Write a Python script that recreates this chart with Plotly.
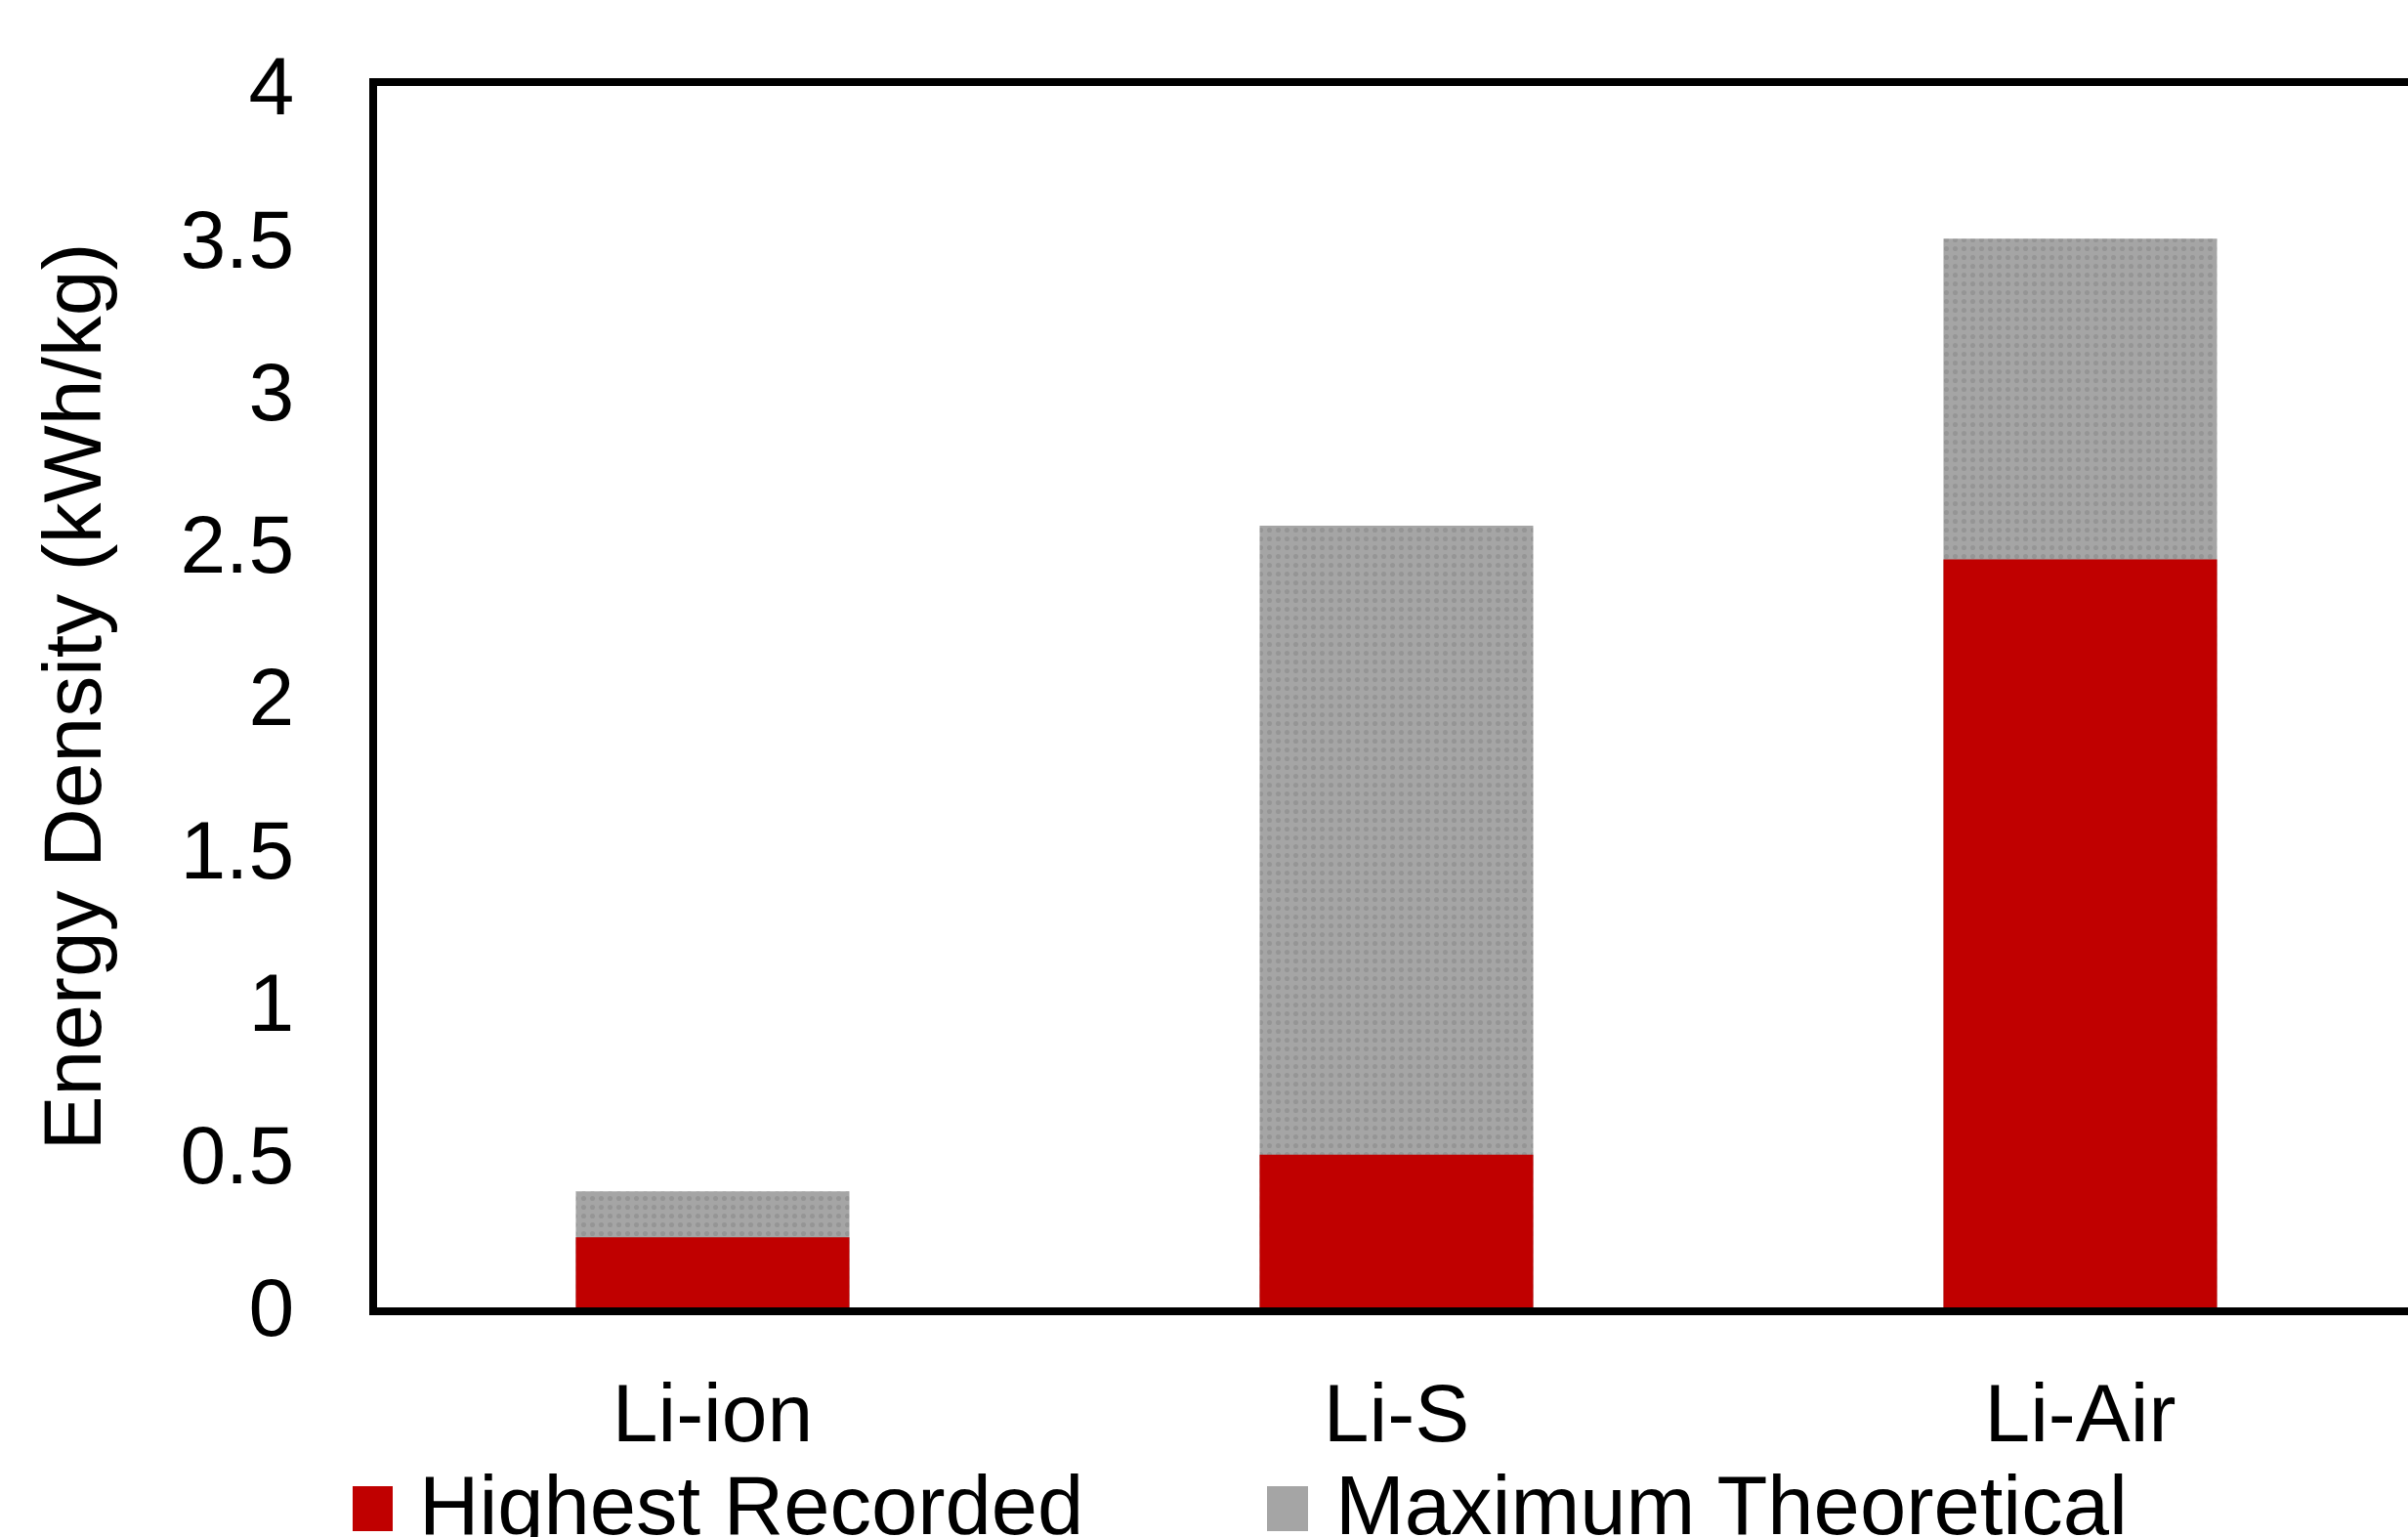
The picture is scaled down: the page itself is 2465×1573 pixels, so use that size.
import plotly.graph_objects as go

# Battery chemistries and their gravimetric energy densities (kWh/kg)
chemistries = ["Li-ion", "Li-S", "Li-Air"]
highest_recorded = [0.23, 0.5, 2.45]
maximum_theoretical = [0.38, 2.56, 3.5]

y_ticks = [0, 0.5, 1, 1.5, 2, 2.5, 3, 3.5, 4]
y_tick_labels = ["0", "0.5", "1", "1.5", "2", "2.5", "3", "3.5", "4"]

series_names = ["Highest Recorded", "Maximum Theoretical"]

RED = "#C00000"
GREY = "#A5A5A5"
FONT = "Liberation Sans, Arial, sans-serif"

W, H = 2465, 1573
M_L, M_R, M_T, M_B = 386, 0, 88, 235
plot_w = W - M_L - M_R
plot_h = H - M_T - M_B

fig = go.Figure()

# Theoretical maximum drawn behind, recorded value in front
fig.add_trace(go.Bar(
    x=chemistries, y=maximum_theoretical, name=series_names[1], width=0.4,
    marker=dict(color=GREY, line=dict(width=0),
                pattern=dict(shape=".", bgcolor=GREY, fgcolor="#959595",
                             size=9, solidity=0.25, fillmode="replace")),
    showlegend=False,
))
fig.add_trace(go.Bar(
    x=chemistries, y=highest_recorded, name=series_names[0], width=0.4,
    marker=dict(color=RED, line=dict(width=0)),
    showlegend=False,
))

x_left = -0.4907
x_right = x_left + plot_w / 700.0


def px_x(px):
    return (px - M_L) / plot_w


def px_y(py):
    return (H - M_B - py) / plot_h


# Legend row below the axis
legend_items = [
    (series_names[0], RED, 361, 402, 427),
    (series_names[1], GREY, 1297, 1339, 1365),
]
shapes = []
annotations = []
for name, color, sx0, sx1, tx in legend_items:
    shapes.append(dict(
        type="rect", xref="paper", yref="paper",
        x0=px_x(sx0), x1=px_x(sx1), y0=px_y(1567), y1=px_y(1521),
        fillcolor=color, line=dict(width=0), layer="above",
    ))
    annotations.append(dict(
        text=name, xref="paper", yref="paper",
        x=px_x(tx), y=px_y(1541), xanchor="left", yanchor="middle",
        showarrow=False, font=dict(family=FONT, size=85, color="black"),
    ))

fig.update_layout(
    width=W, height=H,
    margin=dict(l=M_L, r=M_R, t=M_T, b=M_B, autoexpand=False),
    paper_bgcolor="white", plot_bgcolor="white",
    barmode="overlay",
    font=dict(family=FONT, size=84, color="black"),
    shapes=shapes,
    annotations=annotations,
    xaxis=dict(
        type="category", range=[x_left, x_right],
        showline=True, linecolor="black", linewidth=8, mirror=True,
        showgrid=False, zeroline=False, ticks="",
        tickfont=dict(family=FONT, size=84, color="black"),
        ticklabelstandoff=28,
    ),
    yaxis=dict(
        range=[0, 4], tickvals=y_ticks, ticktext=y_tick_labels,
        showline=True, linecolor="black", linewidth=8, mirror=False,
        showgrid=False, zeroline=False, ticks="",
        tickfont=dict(family=FONT, size=84, color="black"),
        ticklabelstandoff=60,
        title=dict(text="Energy Density (kWh/kg)", standoff=56,
                   font=dict(family=FONT, size=84, color="black")),
    ),
)

fig.write_html("out.html")
